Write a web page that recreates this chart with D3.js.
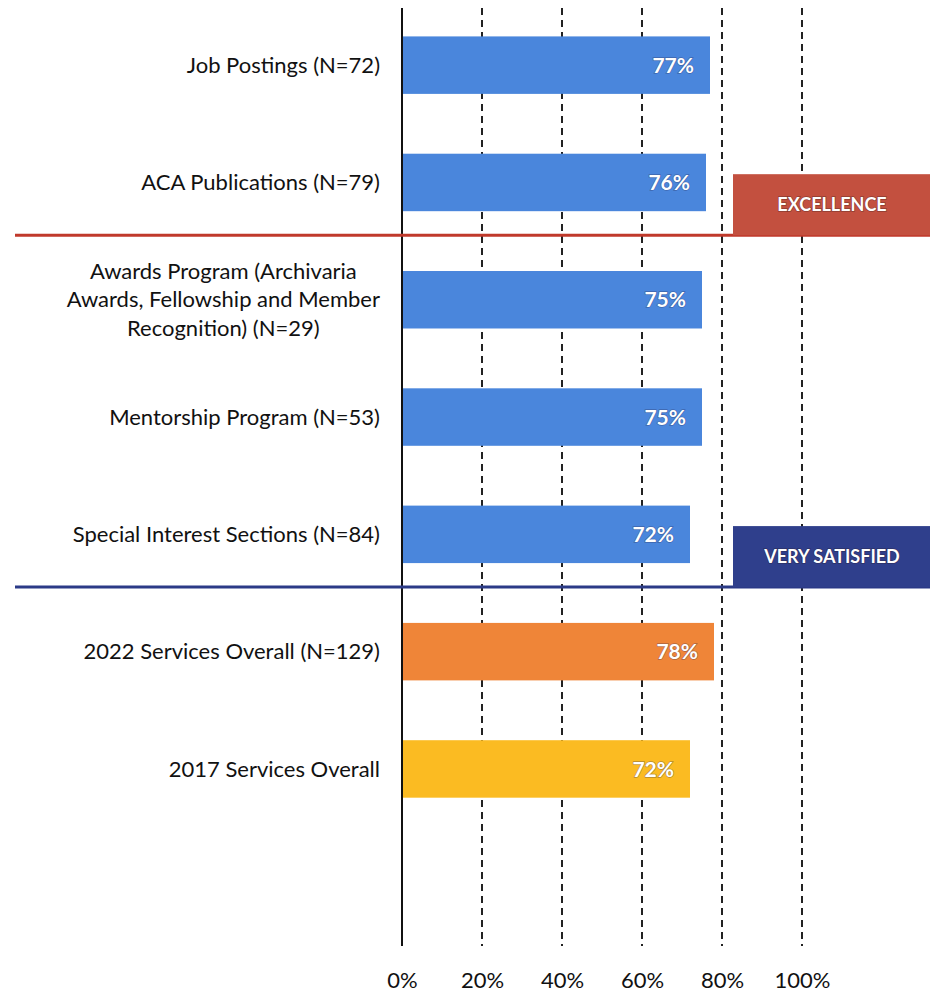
<!DOCTYPE html>
<html>
<head>
    <meta charset="utf-8">
    <title>Services satisfaction</title>
    <script src="https://d3js.org/d3.v7.min.js" charset="utf-8"></script>
    <style>
        body { margin: 0; background: #fff; }
        text { font-family: Lato, "Open Sans", sans-serif; }
    </style>
</head>
<body>
<div class="box"></div>
<script type="text/javascript">
    var categories = [
        "Job Postings (N=72)",
        "ACA Publications (N=79)",
        "Awards Program (Archivaria\nAwards, Fellowship and Member\nRecognition) (N=29)",
        "Mentorship Program (N=53)",
        "Special Interest Sections (N=84)",
        "2022 Services Overall (N=129)",
        "2017 Services Overall"
    ];
    var values = [77, 76, 75, 75, 72, 78, 72];
    var barColors = ["#4a86dc", "#4a86dc", "#4a86dc", "#4a86dc", "#4a86dc", "#ef8538", "#fbbb22"];
    var tickValues = [0, 20, 40, 60, 80, 100];
    // bands: name, the bar index it sits under, colour
    var bands = [
        { name: "EXCELLENCE", after: 1, color: "#c3503f", line: "#c0392b" },
        { name: "VERY SATISFIED", after: 4, color: "#2f3f8c", line: "#2b3a87" }
    ];

    var width = 930;
    var height = 999;
    var topY = 6.5;
    var step = 117.3;

    var x = d3.scaleLinear()
        .domain([0, 100])
        .range([402, 802]);

    var y = d3.scaleBand()
        .domain(categories)
        .range([topY, topY + step * categories.length])
        .paddingInner(0.51)
        .paddingOuter(0.255);

    var svg = d3.select("div.box").append("svg")
        .attr("width", width)
        .attr("height", height);

    // dashed grid lines
    svg.append("g")
        .selectAll("line")
        .data(tickValues.filter(function(d) { return d > 0; }))
        .enter()
        .append("line")
        .attr("x1", function(d) { return x(d); })
        .attr("x2", function(d) { return x(d); })
        .attr("y1", 8)
        .attr("y2", 946)
        .attr("stroke", "#222")
        .attr("stroke-width", 2)
        .attr("stroke-dasharray", "7,5");

    // tick labels
    var axis = svg.append("g")
        .attr("transform", "translate(0,980)")
        .call(d3.axisBottom(x).tickValues(tickValues).tickSize(0).tickPadding(0).tickFormat(function(d) { return d + "%"; }));
    axis.select(".domain").remove();
    axis.selectAll("text")
        .attr("dy", "0.36em")
        .style("font-size", "22px")
        .style("font-family", "Lato, sans-serif")
        .attr("fill", "#111");

    // bars
    svg.append("g")
        .selectAll("rect")
        .data(values)
        .enter()
        .append("rect")
        .attr("x", x(0))
        .attr("y", function(d, i) { return y(categories[i]); })
        .attr("width", function(d) { return x(d) - x(0); })
        .attr("height", y.bandwidth())
        .attr("fill", function(d, i) { return barColors[i]; });

    // value labels
    svg.append("g")
        .selectAll("text")
        .data(values)
        .enter()
        .append("text")
        .attr("x", function(d) { return x(d) - 16; })
        .attr("y", function(d, i) { return y(categories[i]) + y.bandwidth() / 2; })
        .attr("dy", "0.36em")
        .attr("text-anchor", "end")
        .attr("fill", "#fff")
        .style("font-size", "21px")
        .style("font-weight", "bold")
        .style("paint-order", "stroke")
        .attr("stroke", "rgba(40,40,80,0.35)")
        .attr("stroke-width", 1.5)
        .text(function(d) { return d + "%"; });

    // category labels (multi-line ones centred in a block right-aligned at 380)
    var labels = svg.append("g")
        .selectAll("text")
        .data(categories)
        .enter()
        .append("text")
        .attr("text-anchor", "middle")
        .attr("fill", "#111")
        .style("font-size", "22px");

    labels.each(function(name) {
        var t = d3.select(this);
        var lines = name.split("\n");
        var widths = lines.map(function(l) {
            t.text(l);
            return this.getComputedTextLength();
        }, this);
        t.text(null);
        var maxW = d3.max(widths);
        var cx = 380 - maxW / 2;
        var lh = 28.5;
        var cy = y(name) + y.bandwidth() / 2 - (lines.length - 1) * lh / 2;
        lines.forEach(function(l, j) {
            t.append("tspan")
                .attr("x", cx)
                .attr("y", cy + j * lh)
                .attr("dy", "0.35em")
                .text(l);
        });
    });

    // zero axis line
    svg.append("line")
        .attr("x1", x(0)).attr("x2", x(0))
        .attr("y1", 8).attr("y2", 946)
        .attr("stroke", "#111")
        .attr("stroke-width", 2);

    // band separators and tags
    bands.forEach(function(b) {
        var lineY = y(categories[b.after]) + y.bandwidth() + 24;
        svg.append("line")
            .attr("x1", 15).attr("x2", width)
            .attr("y1", lineY).attr("y2", lineY)
            .attr("stroke", b.line)
            .attr("stroke-width", 3);
        svg.append("rect")
            .attr("x", 733)
            .attr("y", lineY - 61)
            .attr("width", width - 733)
            .attr("height", 61)
            .attr("fill", b.color);
        svg.append("text")
            .attr("x", 832)
            .attr("y", lineY - 31)
            .attr("dy", "0.36em")
            .attr("text-anchor", "middle")
            .attr("fill", "#fff")
            .style("font-size", "18px")
            .style("font-weight", "bold")
            .style("paint-order", "stroke")
            .attr("stroke", "rgba(40,20,20,0.35)")
            .attr("stroke-width", 1.5)
            .text(b.name);
    });
</script>
</body>
</html>
